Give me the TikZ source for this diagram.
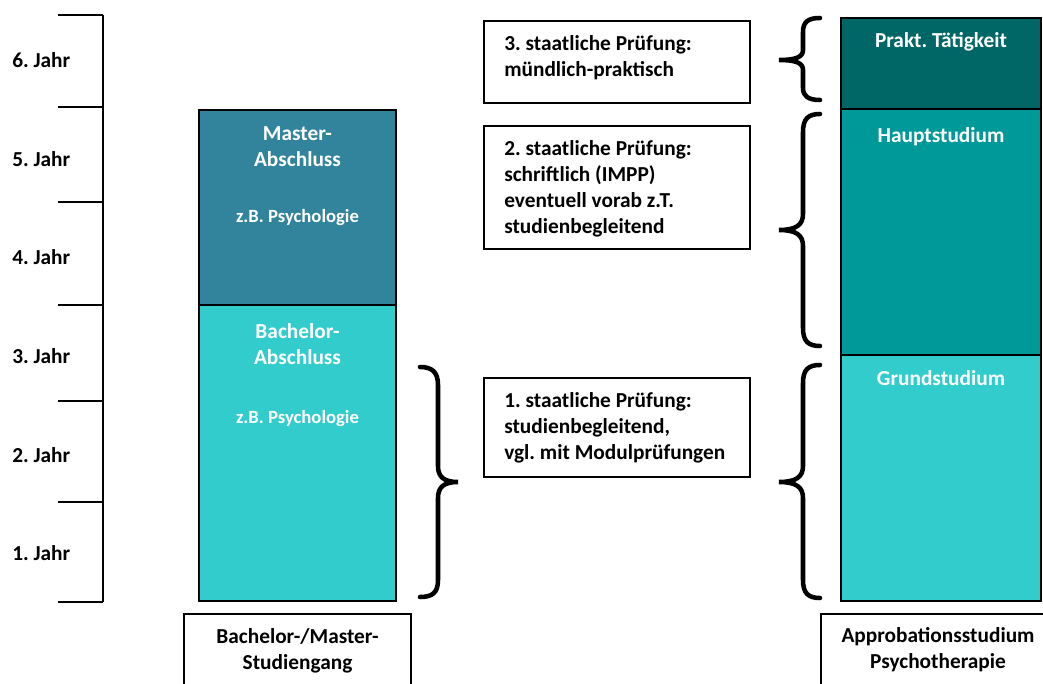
\documentclass[tikz,border=0pt]{standalone}
\usepackage{fontspec}
\setmainfont{Carlito}
\frenchspacing
\definecolor{masterblue}{HTML}{31849B}
\definecolor{bachelorcyan}{HTML}{33CCCC}
\definecolor{hauptteal}{HTML}{009999}
\definecolor{praktdark}{HTML}{006666}
\tikzset{
  every node/.style={font=\fontsize{16}{19.5}\selectfont\bfseries, inner sep=0pt},
  yearlabel/.style={anchor=west},
  coltext/.style={text=white, align=center},
  smalltext/.style={text=white, font=\fontsize{14}{16}\selectfont\bfseries},
  exambox/.style={draw=black, line width=1.1pt},
  colbox/.style={draw=black, line width=1.5pt},
  curly/.style={line width=3.4pt, line cap=round},
}
\begin{document}
\begin{tikzpicture}[x=0.75pt,y=0.75pt,yscale=-1]
\useasboundingbox (0,0) rectangle (1043,684);
\clip (0,0) rectangle (1043,684);

%Straight Lines (year scale)
\draw [line width=1.5pt] (103,15) -- (103,602) ;
\foreach \ty in {15,107,202,305,401,502,602}
  \draw [line width=1.5pt] (58,\ty) -- (103,\ty) ;

% Text Node
\node [yearlabel] (y6) at (12,60) {6. Jahr};
\node [yearlabel] (y5) at (12,159) {5. Jahr};
\node [yearlabel] (y4) at (12,257) {4. Jahr};
\node [yearlabel] (y3) at (12,356) {3. Jahr};
\node [yearlabel] (y2) at (12,455) {2. Jahr};
\node [yearlabel] (y1) at (12,553) {1. Jahr};

%Shape: Rectangle (Bachelor/Master column)
\draw [colbox, fill=bachelorcyan] (199,305) rectangle (396,601) ;
\draw [colbox, fill=masterblue] (199,110) rectangle (396,305) ;

% Text Node
\node [coltext] (master) at (297.5,146.5) {Master-\\Abschluss};
\node [smalltext] (masterbsp) at (297.5,218) {z.B. Psychologie};
\node [coltext] (bachelor) at (297.5,344.5) {Bachelor-\\Abschluss};
\node [smalltext] (bachelorbsp) at (297.5,419) {z.B. Psychologie};

%Shape: Rectangle (Approbation column)
\draw [colbox, fill=praktdark] (841,18) rectangle (1041,109) ;
\draw [colbox, fill=hauptteal] (841,109) rectangle (1041,355) ;
\draw [colbox, fill=bachelorcyan] (841,355) rectangle (1041,601) ;

% Text Node
\node [coltext] (prakt) at (941,42) {Prakt. Tätigkeit};
\node [coltext] (haupt) at (941,137) {Hauptstudium};
\node [coltext] (grund) at (941,378) {Grundstudium};

%Shape: Rectangle (exam boxes)
\draw [exambox] (484,21) rectangle (750,103) ;
\draw [exambox] (484,126) rectangle (750,249) ;
\draw [exambox] (484,378) rectangle (750,477) ;

% Text Node
\node [anchor=west, align=left] (pruef3) at (504,57.5) {3. staatliche Prüfung:\\mündlich-praktisch};
\node [anchor=west, align=left] (pruef2) at (504,189) {2. staatliche Prüfung:\\schriftlich (IMPP)\\eventuell vorab z.T.\\studienbegleitend};
\node [anchor=west, align=left] (pruef1) at (504,428) {1. staatliche Prüfung:\\studienbegleitend,\\vgl. mit Modulprüfungen};

%Shape: Brace (pointing right)
\draw [curly] (420,367) .. controls (432,367) and (438,372) .. (438,385) -- (438,466) .. controls (438,477) and (444,482) .. (458,482) .. controls (444,482) and (438,487) .. (438,498) -- (438,580) .. controls (438,593) and (432,597) .. (420,597) ;

%Shape: Brace (pointing left)
\draw [curly] (820,18) .. controls (808,18) and (803,22) .. (803,32) -- (803,50) .. controls (803,57) and (796,60) .. (779,60) .. controls (796,60) and (803,63) .. (803,70) -- (803,88) .. controls (803,96) and (808,100) .. (820,100) ;
\draw [curly] (820,114) .. controls (808,114) and (803,119) .. (803,132) -- (803,214) .. controls (803,225) and (796,230) .. (779,230) .. controls (796,230) and (803,235) .. (803,246) -- (803,328) .. controls (803,341) and (808,346) .. (820,346) ;
\draw [curly] (820,365) .. controls (808,365) and (803,370) .. (803,383) -- (803,466) .. controls (803,477) and (796,482) .. (779,482) .. controls (796,482) and (803,487) .. (803,498) -- (803,580) .. controls (803,593) and (808,598) .. (820,598) ;

%Shape: Rectangle (bottom labels)
\draw [exambox] (184,614) rectangle (411,700) ;
\draw [exambox] (821,614) rectangle (1060,700) ;

% Text Node
\node [align=center] (bmlabel) at (297.5,651) {Bachelor-/Master-\\Studiengang};
\node [align=center] (applabel) at (938,650) {Approbationsstudium\\Psychotherapie};

\end{tikzpicture}
\end{document}
